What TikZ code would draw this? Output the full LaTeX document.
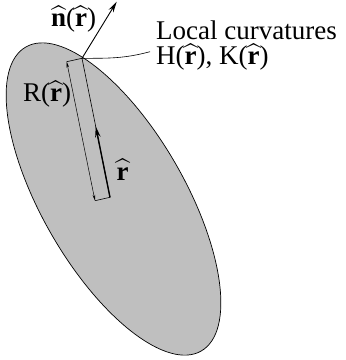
\documentclass[tikz,border=0pt]{standalone}
\usepackage{amsfonts,amssymb,amsmath}
\usepackage{fontspec}
\setmainfont{Liberation Serif}
\usepackage{xcolor}
\usetikzlibrary{arrows.meta,calc}
\definecolor{shellgray}{gray}{0.75}

\begin{document}
\begin{tikzpicture}[x=1pt,y=-1pt,>={Stealth[length=11pt,width=5.5pt]},
  lbl/.style={anchor=base west,inner sep=0pt,font=\fontsize{27}{27}\selectfont},
  tinytip/.style={{Stealth[length=6pt,width=2.5pt]}-{Stealth[length=6pt,width=2.5pt]}}]
\useasboundingbox(0,0)rectangle(346,360);
\draw[fill=shellgray,line width=0.7pt,rotate around={-60:(113.5,199)}](113.5,199)ellipse[x radius=175.5,y radius=71.4];
\coordinate(touch)at(82,58.3);
\coordinate(tl)at(66.7,61.7);
\coordinate(bl)at(95,200.7);
\coordinate(br)at(110,197.3);
\coordinate(mid)at($(br)!0.51!(touch)$);
\coordinate(ntip)at(116.7,1.7);
\coordinate(lead)at(150,51.7);
\draw[line width=0.6pt](tl)--(touch)
(bl)--(br)--(touch);
\draw[tinytip,line width=0.5pt](tl)--(bl);
\draw[->,line width=1.4pt](br)--(mid);
\draw[->,line width=0.9pt](touch)--(ntip);
\draw[line width=0.6pt](touch)to[out=0,in=195](lead);
\node[lbl](nlab)at(51,26.7){$\widehat{\mathbf{n}}$($\widehat{\mathbf{r}}$)};
\node[lbl](curv)at(156,39.3){Local curvatures};
\node[lbl](hk)at(156,64.3){H($\widehat{\mathbf{r}}$), K($\widehat{\mathbf{r}}$)};
\node[lbl](rlab)at(23,101.7){R($\widehat{\mathbf{r}}$)};
\node[lbl](rhat)at(116.5,180){$\widehat{\mathbf{r}}$};
\end{tikzpicture}
\end{document}
